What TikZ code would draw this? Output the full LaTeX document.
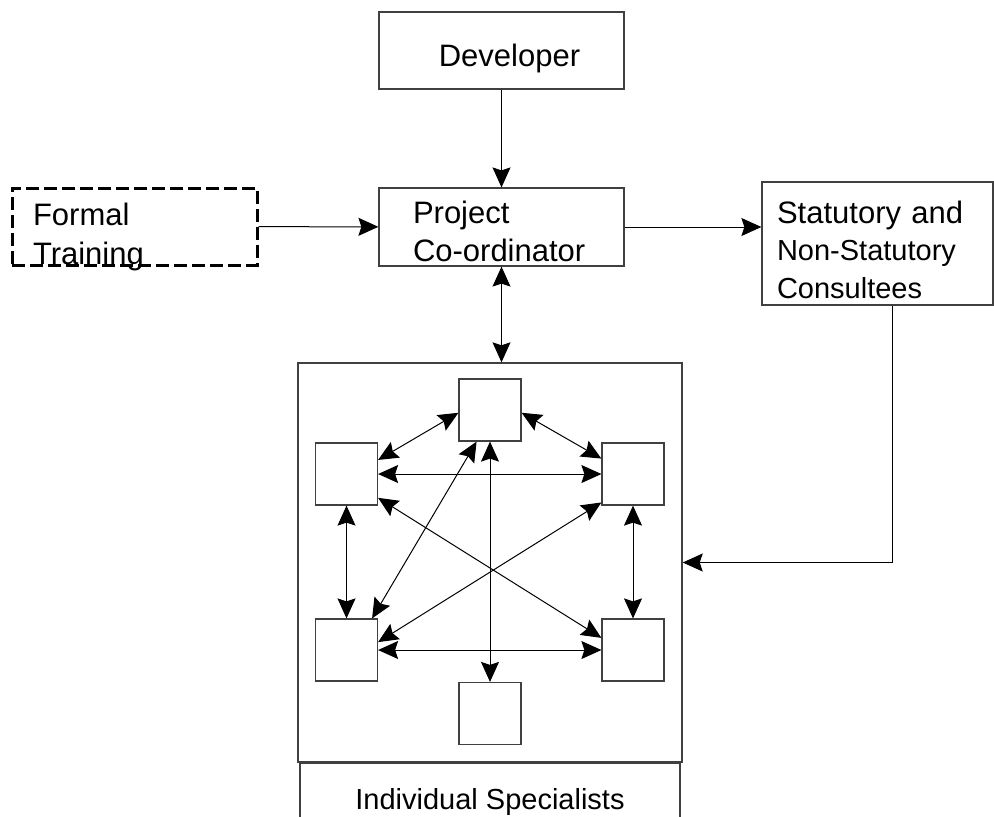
\documentclass[tikz,border=0pt]{standalone}
\usepackage{fontspec}
\setmainfont{Liberation Sans}
\usetikzlibrary{arrows.meta,positioning}

\tikzset{
  box/.style={draw=black!75, line width=0.6pt, minimum width=122.5pt, minimum height=38.5pt,
    inner sep=0pt, font=\fontsize{15.5}{19}\selectfont},
  dashbox/.style={box, draw=black, line width=1.5pt, dash pattern=on 6.5pt off 2.5pt},
  sq/.style={draw=black!75, line width=0.6pt, minimum size=31pt, inner sep=0pt},
}

\begin{document}
\begin{tikzpicture}[x=0.5pt, y=-0.5pt, line width=0.5pt,
  >={Stealth[length=10pt,width=9pt,inset=1.5pt]}]
\useasboundingbox (0,0) rectangle (994,816);
\node (dev) [box, text height=15.5pt, text depth=0pt] at (501.5,50.5) {\hspace*{8pt}Developer};
\node (pc) [box, minimum height=39pt, text width=88.5pt, inner xsep=17pt, align=left,
  text height=5pt, text depth=9pt] at (501.5,227) {Project\\Co-ordinator};
\node (ft) [dashbox, text width=101.5pt, inner xsep=10.5pt, align=left,
  text height=5pt, text depth=6.5pt, font=\fontsize{15.5}{19.5}\selectfont] at (134.5,226.5) {Formal\\Training};
\node (sc) [box, minimum width=115.5pt, minimum height=61.5pt, text width=100.5pt, inner xsep=7.5pt,
  align=left, text height=5pt, text depth=25.5pt] at (877.5,243.5)
  {Statutory and\\\fontsize{14.5}{18.5}\selectfont Non-Statutory\\Consultees};
\node (team) [draw=black!75, line width=0.7pt, minimum width=192pt, minimum height=199.5pt] at (490,562.5) {};
\node (is) [box, minimum width=190pt, minimum height=39pt, font=\fontsize{14.5}{17}\selectfont,
  text height=7pt, text depth=0pt] at (490,802) {Individual Specialists};

% specialists
\node (s1) [sq] at (490,410) {};
\node (s2) [sq] at (346.5,474) {};
\node (s3) [sq] at (633,474) {};
\node (s4) [sq] at (346.5,650) {};
\node (s5) [sq] at (633,650) {};
\node (s6) [sq] at (490,713.5) {};

\draw[->] (dev) -- (pc);
\draw[->] (ft) -- (pc);
\draw[->] (pc.east) -- (pc.east -| sc.west);
\draw[<->] (pc.south) -- (pc.south |- team.north);
\draw[->] ([xshift=7.5pt]sc.south) |- (team.east);

\draw[<->] (s1.185) -- (s2.24);
\draw[<->] (s1.355) -- (s3.154);
\draw[<->] (s2) -- (s3);
\draw[<->] (s2) -- (s4);
\draw[<->] (s3) -- (s5);
\draw[<->] (s4) -- (s5);
\draw[<->] (s1) -- (s6);
\draw[<->] (s1.247) -- (s4.51);
\draw[<->] (s2.-37) -- (s5.159);
\draw[<->] (s3.222) -- (s4.14);
\end{tikzpicture}
\end{document}
